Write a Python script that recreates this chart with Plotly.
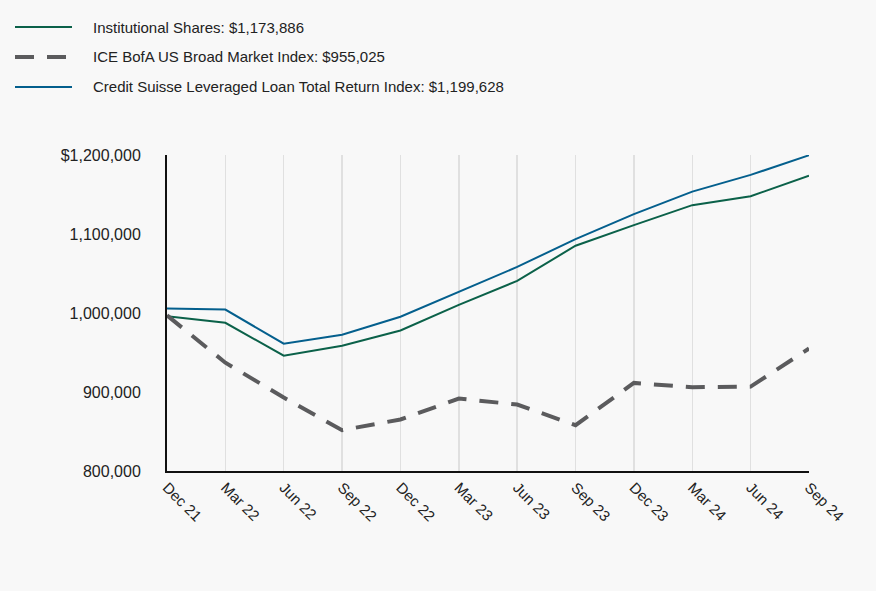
import plotly.graph_objects as go

categories = ["Dec 21", "Mar 22", "Jun 22", "Sep 22", "Dec 22", "Mar 23",
              "Jun 23", "Sep 23", "Dec 23", "Mar 24", "Jun 24", "Sep 24"]

institutional = [996000, 987600, 946000, 958600, 977900, 1010300,
                 1040600, 1085200, 1111300, 1136500, 1147800, 1173886]
ice_bofa = [997000, 937100, 893000, 851700, 865200, 891700,
            884100, 858000, 911500, 906000, 906800, 955025]
credit_suisse = [1005700, 1004400, 961100, 972500, 995200, 1026300,
                 1058300, 1093600, 1125100, 1153700, 1174800, 1199628]

names = ["Institutional Shares: $1,173,886",
         "ICE BofA US Broad Market Index: $955,025",
         "Credit Suisse Leveraged Loan Total Return Index: $1,199,628"]

y_tickvals = [800000, 900000, 1000000, 1100000, 1200000]
y_ticktext = ["800,000", "900,000", "1,000,000", "1,100,000", "$1,200,000"]

FONT = "Liberation Sans, Arial, sans-serif"
TXT = "#222222"
BG = "#f8f8f8"

W, H = 876, 591
ML, MR, MT, MB = 167, 67, 155, 120
PW, PH = W - ML - MR, H - MT - MB


def px_to_paper_x(px):
    return (px - ML) / PW


def px_to_paper_y(py):
    return (H - MB - py) / PH


styles = [dict(color="#0b6149", width=2),
          dict(color="#5b5b5d", width=4, dash="19px,13px"),
          dict(color="#045f8d", width=2)]
series = [institutional, ice_bofa, credit_suisse]

fig = go.Figure()
for s, st, nm in zip(series, styles, names):
    fig.add_trace(go.Scatter(x=categories, y=s, mode="lines", name=nm,
                             line=st, showlegend=False))

# custom legend (top-left)
legend_y = [27, 57, 87]
for ly, st, nm in zip(legend_y, styles, names):
    fig.add_shape(type="line", xref="paper", yref="paper",
                  x0=px_to_paper_x(15), x1=px_to_paper_x(72),
                  y0=px_to_paper_y(ly), y1=px_to_paper_y(ly),
                  line=st)
    fig.add_annotation(xref="paper", yref="paper",
                       x=px_to_paper_x(91), y=px_to_paper_y(ly),
                       xanchor="left", yanchor="middle", showarrow=False,
                       text=nm, font=dict(family=FONT, size=15, color=TXT))

fig.update_layout(
    width=W, height=H,
    paper_bgcolor=BG, plot_bgcolor=BG,
    margin=dict(l=ML, r=MR, t=MT, b=MB, autoexpand=False),
    font=dict(family=FONT, size=15, color=TXT),
    showlegend=False,
    xaxis=dict(type="category", range=[0, len(categories) - 1],
               showgrid=True, gridcolor="#e0e0e0", gridwidth=1.5,
               showline=True, linecolor="#111111", linewidth=2,
               ticks="", tickangle=45, tickfont=dict(family=FONT, size=15, color=TXT),
               zeroline=False, automargin=False),
    yaxis=dict(range=[800000, 1200000], tickvals=y_tickvals, ticktext=y_ticktext,
               showgrid=False, showline=True, linecolor="#111111", linewidth=2,
               ticks="", ticklabelstandoff=21,
               tickfont=dict(family=FONT, size=16, color=TXT), zeroline=False,
               automargin=False),
)

fig.write_html(
    "out.html",
    config={"displayModeBar": False, "staticPlot": True},
    post_script="document.body.style.margin='0';document.body.style.background='%s';" % BG,
)
